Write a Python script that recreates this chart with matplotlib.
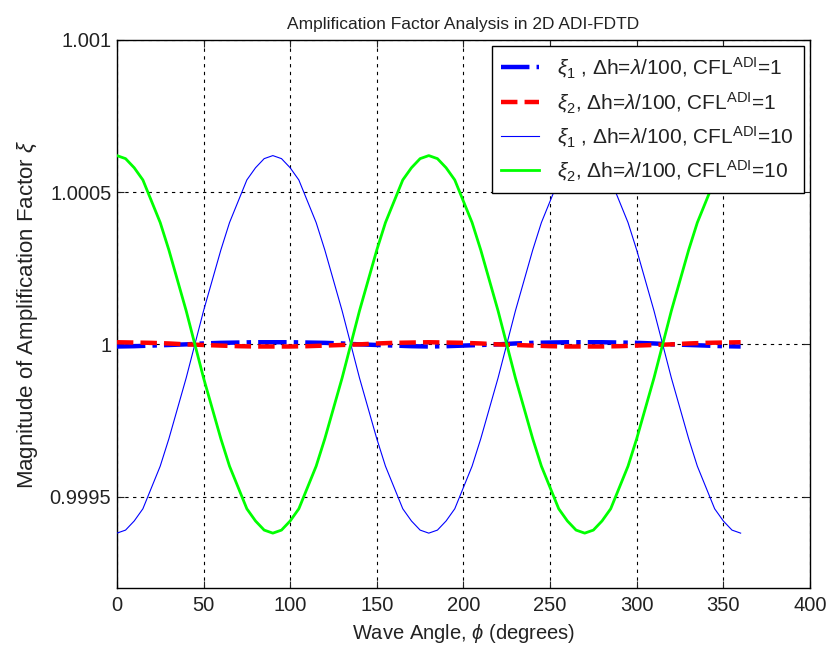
import matplotlib
matplotlib.use("Agg")
import matplotlib.pyplot as plt

plt.rcParams['font.family'] = ['Liberation Sans', 'DejaVu Sans']
plt.rcParams['mathtext.fontset'] = 'custom'
plt.rcParams['mathtext.rm'] = 'Liberation Sans'
plt.rcParams['mathtext.it'] = 'Liberation Sans:italic'
plt.rcParams['mathtext.bf'] = 'Liberation Sans:bold'

# Data
angle_coarse = [0, 10, 20, 30, 40, 50, 60, 70, 80, 90, 100, 110, 120, 130, 140, 150, 160, 170, 180,
                190, 200, 210, 220, 230, 240, 250, 260, 270, 280, 290, 300, 310, 320, 330, 340, 350, 360]
xi1_cfl1 = [0.999993, 0.999994, 0.999996, 0.999998, 1.000000, 1.000003, 1.000005, 1.000006, 1.000007, 1.000007,
            1.000007, 1.000006, 1.000005, 1.000003, 1.000000, 0.999998, 0.999996, 0.999994, 0.999993,
            0.999994, 0.999996, 0.999998, 1.000000, 1.000003, 1.000005, 1.000006, 1.000007, 1.000007,
            1.000007, 1.000006, 1.000005, 1.000003, 1.000000, 0.999998, 0.999996, 0.999994, 0.999993]
xi2_cfl1 = [1.000007, 1.000006, 1.000005, 1.000003, 1.000000, 0.999998, 0.999996, 0.999994, 0.999993, 0.999993,
            0.999993, 0.999994, 0.999996, 0.999998, 1.000000, 1.000003, 1.000005, 1.000006, 1.000007,
            1.000006, 1.000005, 1.000003, 1.000000, 0.999998, 0.999996, 0.999994, 0.999993, 0.999993,
            0.999993, 0.999994, 0.999996, 0.999998, 1.000000, 1.000003, 1.000005, 1.000006, 1.000007]

angle_fine = [0, 5, 10, 15, 20, 25, 30, 35, 40, 45, 50, 55, 60, 65, 70, 75, 80, 85, 90,
              95, 100, 105, 110, 115, 120, 125, 130, 135, 140, 145, 150, 155, 160, 165, 170, 175, 180,
              185, 190, 195, 200, 205, 210, 215, 220, 225, 230, 235, 240, 245, 250, 255, 260, 265, 270,
              275, 280, 285, 290, 295, 300, 305, 310, 315, 320, 325, 330, 335, 340, 345, 350, 355, 360]
xi1_cfl10 = [0.99938, 0.99939, 0.99942, 0.99946, 0.99953, 0.99960, 0.99969, 0.99979, 0.99989, 1.00000,
             1.00011, 1.00021, 1.00031, 1.00040, 1.00047, 1.00054, 1.00058, 1.00061, 1.00062,
             1.00061, 1.00058, 1.00054, 1.00047, 1.00040, 1.00031, 1.00021, 1.00011, 1.00000,
             0.99989, 0.99979, 0.99969, 0.99960, 0.99953, 0.99946, 0.99942, 0.99939, 0.99938,
             0.99939, 0.99942, 0.99946, 0.99953, 0.99960, 0.99969, 0.99979, 0.99989, 1.00000,
             1.00011, 1.00021, 1.00031, 1.00040, 1.00047, 1.00054, 1.00058, 1.00061, 1.00062,
             1.00061, 1.00058, 1.00054, 1.00047, 1.00040, 1.00031, 1.00021, 1.00011, 1.00000,
             0.99989, 0.99979, 0.99969, 0.99960, 0.99953, 0.99946, 0.99942, 0.99939, 0.99938]
xi2_cfl10 = [1.00062, 1.00061, 1.00058, 1.00054, 1.00047, 1.00040, 1.00031, 1.00021, 1.00011, 1.00000,
             0.99989, 0.99979, 0.99969, 0.99960, 0.99953, 0.99946, 0.99942, 0.99939, 0.99938,
             0.99939, 0.99942, 0.99946, 0.99953, 0.99960, 0.99969, 0.99979, 0.99989, 1.00000,
             1.00011, 1.00021, 1.00031, 1.00040, 1.00047, 1.00054, 1.00058, 1.00061, 1.00062,
             1.00061, 1.00058, 1.00054, 1.00047, 1.00040, 1.00031, 1.00021, 1.00011, 1.00000,
             0.99989, 0.99979, 0.99969, 0.99960, 0.99953, 0.99946, 0.99942, 0.99939, 0.99938,
             0.99939, 0.99942, 0.99946, 0.99953, 0.99960, 0.99969, 0.99979, 0.99989, 1.00000,
             1.00011, 1.00021, 1.00031, 1.00040, 1.00047, 1.00054, 1.00058, 1.00061, 1.00062]

labels = [r'$\xi_1$ , $\Delta$h=$\lambda$/100, CFL$^{\mathrm{ADI}}$=1',
          r'$\xi_2$, $\Delta$h=$\lambda$/100, CFL$^{\mathrm{ADI}}$=1',
          r'$\xi_1$ , $\Delta$h=$\lambda$/100, CFL$^{\mathrm{ADI}}$=10',
          r'$\xi_2$, $\Delta$h=$\lambda$/100, CFL$^{\mathrm{ADI}}$=10']
xticks = [0, 50, 100, 150, 200, 250, 300, 350, 400]
yticks = [0.9995, 1.0, 1.0005, 1.001]
ytick_labels = ['0.9995', '1', '1.0005', '1.001']

fig = plt.figure(figsize=(8.35, 6.54), dpi=100)
ax = fig.add_axes([0.140, 0.101, 0.830, 0.838])

ax.plot(angle_coarse, xi1_cfl1, color='#0000ff', linestyle='-.', linewidth=3.2, label=labels[0], zorder=3)
ax.plot(angle_coarse, xi2_cfl1, color='#ff0000', linestyle='--', linewidth=3.2, label=labels[1], zorder=3)
ax.plot(angle_fine, xi1_cfl10, color='#0000ff', linestyle='-', linewidth=0.8, label=labels[2], zorder=4)
ax.plot(angle_fine, xi2_cfl10, color='#00ff00', linestyle='-', linewidth=2.0, label=labels[3], zorder=4)

ax.set_xlim(0, 400)
ax.set_ylim(0.9992, 1.001)
ax.set_xticks(xticks)
ax.set_yticks(yticks)
ax.set_yticklabels(ytick_labels)
ax.tick_params(direction='in', length=5, width=0.8, top=True, right=True, labelsize=14.5, colors='#222222')
ax.tick_params(axis='y', pad=4)
ax.tick_params(axis='x', pad=6)
ax.grid(True, color='black', linestyle=(0, (3, 4)), linewidth=0.8)
for s in ax.spines.values():
    s.set_linewidth(1.0)
    s.set_color('black')

ax.set_title('Amplification Factor Analysis in 2D ADI-FDTD', fontsize=12.5, pad=8, color='#222222')
ax.set_xlabel(r'Wave Angle, $\phi$ (degrees)', fontsize=14.5, labelpad=5, color='#222222')
ax.set_ylabel(r'Magnitude of Amplification Factor $\xi$', fontsize=16, labelpad=7, color='#222222')

leg = ax.legend(loc='upper right', fontsize=15, frameon=True, fancybox=False, framealpha=1,
                edgecolor='black', handlelength=1.8, borderaxespad=0.3, labelspacing=0.45,
                handletextpad=0.9, borderpad=0.45)
leg.get_frame().set_linewidth(1.0)
for t in leg.get_texts():
    t.set_color('#222222')
leg.set_zorder(10)

fig.savefig('out.png', dpi=100, facecolor='white')
